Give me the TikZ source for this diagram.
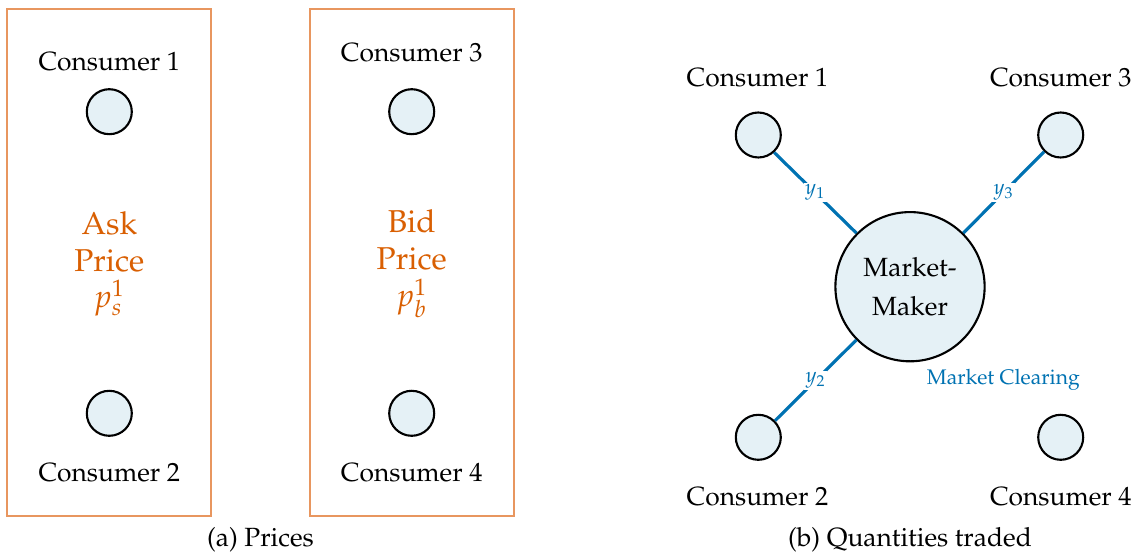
\documentclass[tikz,border=0pt]{standalone}
\usepackage[T1]{fontenc}
\usepackage{xcolor}
\usepackage{amsmath}
\usepackage{mathpazo}
\usepackage{tikz}
\usetikzlibrary{calc}

\definecolor{askorange}{RGB}{217,95,2}
\definecolor{boxorange}{RGB}{232,150,95}
\definecolor{tradeblue}{RGB}{0,114,178}
\definecolor{nodefill}{RGB}{229,241,246}

\begin{document}
\begin{tikzpicture}[x=0.01333cm,y=-0.01333cm,line width=0.8pt,
		consumer/.style={circle,draw=black,fill=nodefill,minimum size=0.6cm,inner sep=0pt},
		maker/.style={circle,draw=black,fill=nodefill,minimum size=1.99cm,inner sep=0pt,align=center},
		pricebox/.style={draw=boxorange,line width=0.7pt},
		pricetext/.style={text=askorange,font=\large,align=center},
		trade/.style={draw=tradeblue,line width=1.2pt},
		qty/.style={fill=white,inner sep=0.5pt,text=tradeblue,font=\footnotesize}]
			\useasboundingbox (0,0) rectangle (1141,560);
			% % % % % % % % % % % % % % %
			%(a) 两个价格框
			\coordinate (A) at (7.3,9.3);
			\coordinate (B) at (211.3,516);
			\coordinate (C) at (309.7,9.3);
			\coordinate (D) at (514,516);
			\draw[pricebox] (A) -- (A -| B) -- (B) -- (B -| A) -- cycle;
			\draw[pricebox] (C) -- (C -| D) -- (D) -- (D -| C) -- cycle;
			\node[consumer] (a1) at (109.3,111.7) {};
			\node[consumer] (a2) at (109.3,413.3) {};
			\node[consumer] (a3) at (411.7,111.7) {};
			\node[consumer] (a4) at (411.7,413.3) {};
			\node (a1lab) at (109.3,61.7) {Consumer 1};
			\node (a2lab) at (109.3,472.7) {Consumer 2};
			\node (a3lab) at (411.7,52.7) {Consumer 3};
			\node (a4lab) at (411.7,472.7) {Consumer 4};
			\node[pricetext] (ask) at (109.3,264) {Ask\\Price\\$p_s^1$};
			\node[pricetext] (bid) at (411.7,264) {Bid\\Price\\$p_b^1$};
			\node (capa) at (260.5,540) {(a) Prices};
			%(b) 做市商
			\node[maker] (mm) at (910,286.7) {Market-\\[2.6pt]Maker};
			\node[consumer] (b1) at (758.3,135) {};
			\node[consumer] (b2) at (758.3,437.3) {};
			\node[consumer] (b3) at (1060.7,135) {};
			\node[consumer] (b4) at (1060.7,437.3) {};
			\node (b1lab) at (757.5,77.7) {Consumer 1};
			\node (b2lab) at (757.5,496.7) {Consumer 2};
			\node (b3lab) at (1060.8,77.7) {Consumer 3};
			\node (b4lab) at (1060.8,496.7) {Consumer 4};
			%交易量
			\draw[trade] (b1) -- node[qty] {$y_1$} (mm);
			\draw[trade] (b2) -- node[qty] {$y_2$} (mm);
			\draw[trade] (b3) -- node[qty] {$y_3$} (mm);
			\node[text=tradeblue,font=\footnotesize] (clear) at (1003.3,380) {Market Clearing};
			\node (capb) at (910,540) {(b) Quantities traded};
		\end{tikzpicture}
\end{document}
